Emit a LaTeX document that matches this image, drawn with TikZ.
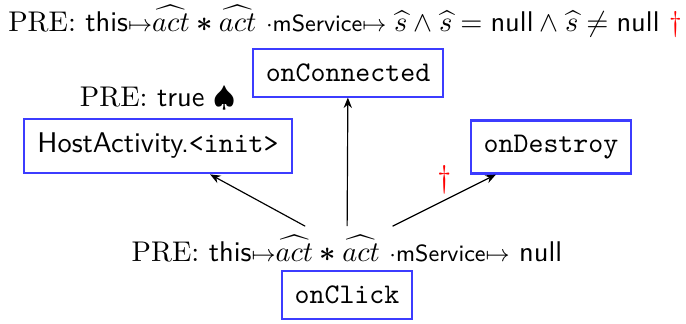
\documentclass[tikz,border=0pt,11pt]{standalone}
\usepackage{amsmath,amssymb,bm}
\usetikzlibrary{arrows.meta}
\definecolor{boxblue}{RGB}{60,60,255}
% small points-to arrow used in the heap assertions
\newcommand{\pto}{\mbox{\footnotesize$\mapsto$}}
\newcommand{\fld}[1]{{\footnotesize$\cdot$\textsf{#1}}}
\newcommand{\sep}{\mathbin{\bm{\ast}}}
\begin{document}
\begin{tikzpicture}[x=0.3846pt,y=-0.3846pt,
  method/.style={draw=boxblue, line width=0.8pt, inner xsep=5pt, inner ysep=5.6pt, font=\ttfamily},
  cond/.style={inner sep=3.33pt, anchor=base},
  call/.style={-{Stealth[length=4pt,width=3.2pt]}, line width=0.45pt},
  daggermark/.style={text=red, inner sep=0pt, font=\large}]
\useasboundingbox (0,0) rectangle (686,324);

% preconditions
\node[cond] (preTop) at (345,32)
  {PRE: \textsf{this}\pto$\widehat{act}\sep\widehat{act}$ \fld{mService}\pto$\;\widehat{s}\wedge\widehat{s}=\textsf{null}\wedge\widehat{s}\neq\textsf{null}$ \textcolor{red}{\dag}};
\node[cond] (preInit) at (158,107) {PRE: \textsf{true} $\spadesuit$};
\node[cond] (preClick) at (347,262)
  {PRE: \textsf{this}\pto$\widehat{act}\sep\widehat{act}$ \fld{mService}\pto\ \textsf{null}};

% methods
\node[method] (connected) at (348,73) {onConnected};
\node[method] (init) at (158,146) {\textsf{HostActivity.}<init>};
\node[method] (destroy) at (551,147) {onDestroy};
\node[method] (click) at (347,295) {onClick};

% calls
\draw[call] (preClick) -- (init);
\draw[call] (preClick) -- (connected);
\draw[call] (preClick) -- node[daggermark, above=2pt, pos=0.5] (dag) {\dag} (destroy);
\end{tikzpicture}
\end{document}
